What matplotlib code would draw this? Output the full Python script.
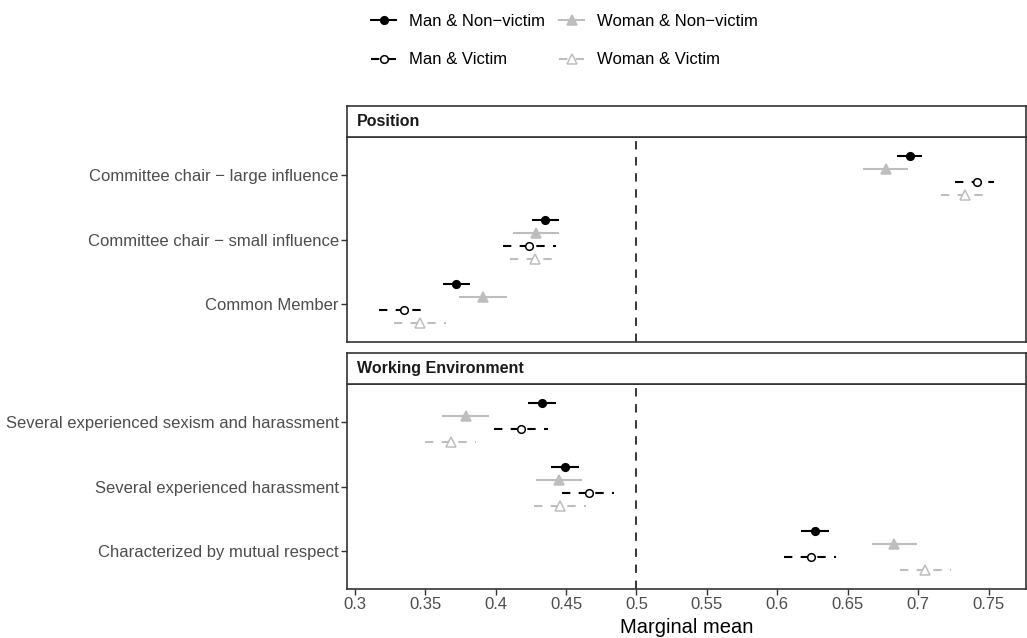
import numpy as np
import matplotlib.pyplot as plt
from matplotlib.lines import Line2D

plt.rcParams['font.family'] = ['Liberation Sans', 'DejaVu Sans']

# attribute levels, grouped by panel
position_levels = ["Committee chair \u2212 large influence",
                   "Committee chair \u2212 small influence",
                   "Common Member"]
environment_levels = ["Several experienced sexism and harassment",
                      "Several experienced harassment",
                      "Characterized by mutual respect"]
panel_titles = ["Position", "Working Environment"]

# marginal means and 95% CIs, order: position levels then environment levels
man_nonvictim = [0.694, 0.435, 0.372, 0.433, 0.449, 0.627]
man_nonvictim_lo = [0.685, 0.426, 0.363, 0.423, 0.439, 0.617]
man_nonvictim_hi = [0.703, 0.445, 0.382, 0.443, 0.459, 0.637]

woman_nonvictim = [0.677, 0.429, 0.391, 0.379, 0.445, 0.683]
woman_nonvictim_lo = [0.661, 0.412, 0.374, 0.362, 0.429, 0.667]
woman_nonvictim_hi = [0.693, 0.445, 0.408, 0.395, 0.461, 0.699]

man_victim = [0.742, 0.424, 0.335, 0.418, 0.466, 0.624]
man_victim_lo = [0.726, 0.405, 0.317, 0.399, 0.447, 0.605]
man_victim_hi = [0.754, 0.443, 0.353, 0.437, 0.484, 0.642]

woman_victim = [0.733, 0.428, 0.346, 0.368, 0.446, 0.705]
woman_victim_lo = [0.716, 0.410, 0.328, 0.350, 0.427, 0.687]
woman_victim_hi = [0.750, 0.446, 0.365, 0.386, 0.464, 0.723]

x_ticks = [0.3, 0.35, 0.4, 0.45, 0.5, 0.55, 0.6, 0.65, 0.7, 0.75]
x_ticklabels = ["0.3", "0.35", "0.4", "0.45", "0.5", "0.55", "0.6", "0.65", "0.7", "0.75"]

grey = "#BEBEBE"
dash = (0, (4, 4))
series = [
    ("Man & Non\u2212victim", man_nonvictim, man_nonvictim_lo, man_nonvictim_hi,
     dict(color="black", ls="-", marker="o", mfc="black", ms=5.5)),
    ("Woman & Non\u2212victim", woman_nonvictim, woman_nonvictim_lo, woman_nonvictim_hi,
     dict(color=grey, ls="-", marker="^", mfc=grey, ms=6.5)),
    ("Man & Victim", man_victim, man_victim_lo, man_victim_hi,
     dict(color="black", ls=dash, marker="o", mfc="white", ms=5.5)),
    ("Woman & Victim", woman_victim, woman_victim_lo, woman_victim_hi,
     dict(color=grey, ls=dash, marker="^", mfc="white", ms=6.5)),
]
offsets = [-0.3, -0.1, 0.1, 0.3]

W, H = 1027, 638
fig = plt.figure(figsize=(W / 100, H / 100), dpi=100)

def box(l, t, r, b):
    return [l / W, 1 - b / H, (r - l) / W, (b - t) / H]

frame_col = "#333333"
panels = [(box(347.3, 137, 1026.3, 342), box(347.3, 105.7, 1026.3, 137), position_levels, 0),
          (box(347.3, 384, 1026.3, 589), box(347.3, 352.7, 1026.3, 384), environment_levels, 3)]

for i, (pos, spos, levels, start) in enumerate(panels):
    ax = fig.add_axes(pos)
    rows = np.arange(1, len(levels) + 1)
    ax.axvline(0.5, color="black", lw=1.1, ls=(0, (5.5, 5)), zorder=1)
    for (label, est, lo, hi, st), off in zip(series, offsets):
        e = np.array(est[start:start + 3])
        l = np.array(lo[start:start + 3])
        h = np.array(hi[start:start + 3])
        y = rows + off
        for k in range(len(rows)):
            ax.plot([l[k], h[k]], [y[k], y[k]], color=st["color"], ls=st["ls"],
                    lw=1.5, solid_capstyle="butt", dash_capstyle="butt", zorder=2)
        ax.plot(e, y, ls="none", marker=st["marker"], ms=st["ms"], mfc=st["mfc"],
                mec=st["color"], mew=1.1, zorder=3)
    ax.set_xlim(0.2947, 0.7768)
    ax.set_ylim(3.6, 0.4)
    ax.set_yticks(rows)
    ax.set_yticklabels(levels, fontsize=12, color="#4D4D4D")
    ax.set_xticks(x_ticks)
    ax.tick_params(axis="both", direction="out", length=4, width=1.0, color=frame_col, pad=2)
    if i == 1:
        ax.set_xticklabels(x_ticklabels, fontsize=12, color="#4D4D4D")
        ax.set_xlabel("Marginal mean", fontsize=14.5, labelpad=4)
    else:
        ax.tick_params(axis="x", length=0, labelbottom=False)
    for sp in ax.spines.values():
        sp.set_color(frame_col)
        sp.set_linewidth(1.2)

    sax = fig.add_axes(spos)
    sax.set_xticks([])
    sax.set_yticks([])
    for sp in sax.spines.values():
        sp.set_color(frame_col)
        sp.set_linewidth(1.2)
    sax.text(0.0138, 0.5, panel_titles[i], transform=sax.transAxes, fontsize=11.5,
             fontweight="bold", va="center", ha="left", color="#1A1A1A")

handles = []
labels = []
for idx in [0, 2, 1, 3]:
    label, est, lo, hi, st = series[idx]
    handles.append(Line2D([0], [0], color=st["color"], ls=st["ls"], lw=1.5,
                          marker=st["marker"], ms=st["ms"], mfc=st["mfc"],
                          mec=st["color"], mew=1.1))
    labels.append(label)
fig.legend(handles, labels, ncol=2, loc="upper left", bbox_to_anchor=(371 / W, 1 - 14 / H),
           frameon=False, fontsize=12, handlelength=1.5, handletextpad=0.78,
           labelspacing=1.4, columnspacing=0.85, borderpad=0, borderaxespad=0)

fig.savefig("out.png", dpi=100)
